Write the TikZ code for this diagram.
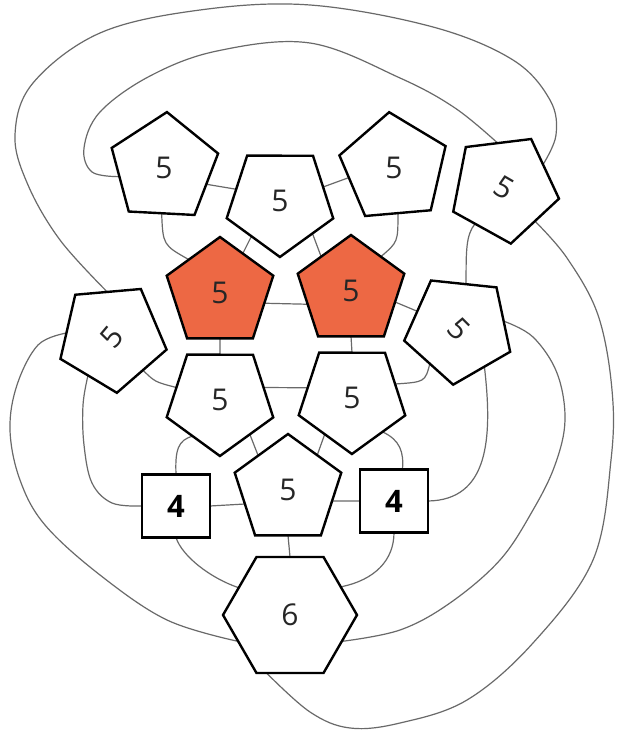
\documentclass[tikz,border=0pt]{standalone}
\usepackage{fontspec}
\setmainfont{Open Sans}
\usepackage{graphicx}
\usetikzlibrary{shapes.geometric}
\definecolor{redf}{RGB}{237,104,68}
\definecolor{wirec}{RGB}{105,105,105}
\pgfdeclarelayer{bg}
\pgfdeclarelayer{wires}
\pgfsetlayers{bg,wires,main}
\newcommand{\lab}{\fontsize{30}{36}\selectfont}
\newcommand{\labb}{\fontsize{31}{36}\selectfont\bfseries}
\begin{document}
\begin{tikzpicture}[x=1pt,y=-1pt,
  pent/.style={regular polygon, regular polygon sides=5, draw=black, line width=2.4pt,
    fill=white, minimum size=112pt, inner sep=0pt, outer sep=0pt, font=\lab, text=black!85},
  redpent/.style={pent, fill=redf},
  sq/.style={rectangle, draw=black, line width=2.4pt, fill=white, minimum width=68pt,
    minimum height=63pt, inner sep=0pt, outer sep=0pt, font=\labb, text=black},
  hexa/.style={regular polygon, regular polygon sides=6, draw=black, line width=2.4pt,
    fill=white, minimum size=134pt, inner sep=0pt, outer sep=0pt, font=\lab, text=black!85},
  wire/.style={draw=wirec, line width=1.2pt}
]
\begin{pgfonlayer}{bg}
  \fill[white] (0,0) rectangle (617,733);
\end{pgfonlayer}
\useasboundingbox (0,0) rectangle (617,733);

% shapes
\node[pent, shape border rotate=-3] (P1) at (164,168) {5};
\node[pent, shape border rotate=179.9] (P2) at (280,201) {5};
\node[pent, shape border rotate=5] (P3) at (394,168) {5};
\node[pent, shape border rotate=187] (P4) at (504,188) {\rotatebox[origin=c]{-30}{5}};
\node[redpent] (R1) at (220,293) {5};
\node[redpent] (R2) at (351,291) {5};
\node[pent, shape border rotate=185] (P5) at (112,337) {\rotatebox[origin=c]{50}{5}};
\node[pent, shape border rotate=174] (P6) at (459,329) {\rotatebox[origin=c]{-45}{5}};
\node[pent, shape border rotate=179.9] (P7) at (220,400) {5};
\node[pent, shape border rotate=179.9] (P8) at (352,398) {5};
\node[pent] (P9) at (288,490) {5};
\node[sq] (S1) at (176,506) {4};
\node[sq] (S2) at (394,501) {4};
\node[hexa] (H) at (290,615) {6};

\begin{pgfonlayer}{wires}
% outer loop P5-P4
\draw[wire] plot[smooth, tension=0.6] coordinates {(P5.96) (60,240) (28,185) (15,135) (33,83) (100,33) (200,10) (310,5) (433,27) (513,60) (550,100) (556,135) (P4.31)};
% inner loop P1-P4
\draw[wire] plot[smooth, tension=0.6] coordinates {(P1.191) (92,172) (84,148) (100,112) (150,76) (217,51) (310,43) (400,78) (455,108) (P4.98)};
\draw[wire] (P1.339) -- (P2.165);
\draw[wire] (P2.18) -- (P3.192);
\draw[wire] (P2.231) -- (R1.60);
\draw[wire] (P2.315) -- (R2.131);
\draw[wire] (P3.275) .. controls (398,242) .. (R2.49);
\draw[wire] (P1.267) .. controls (163,245) .. (R1.133);
\draw[wire] (R1.347) -- (R2.197);
\draw[wire] (R2.346) -- (P6.157);
\draw[wire] (P4.231) .. controls (466,235) and (466,250) .. (P6.81);
% outer right arc P4-H
\draw[wire] plot[smooth, tension=0.6] coordinates {(P4.313) (567,258) (598,315) (612,390) (611,460) (593,560) (533,643) (467,700) (400,723) (350,728) (310,712) (H.248)};
% middle right arc P6-H
\draw[wire] plot[smooth, tension=0.6] coordinates {(P6.10) (533,337) (557,373) (565,420) (555,465) (533,510) (500,560) (450,603) (400,630) (H.333)};
\draw[wire] (P6.304) .. controls (493,440) and (488,500) .. (S2.east);
\draw[wire] (P6.230) .. controls (425,382) .. (P8.18);
\draw[wire] (R2.270) -- (P8.90);
\draw[wire] (R1.270) -- (P7.90);
\draw[wire] (P7.16) -- (P8.167);
\draw[wire] (P5.313) .. controls (155,382) .. (P7.164);
\draw[wire] (P7.311) -- (P9.131);
\draw[wire] (P8.233) -- (P9.50);
\draw[wire] (P7.233) .. controls (178,440) and (175,450) .. (S1.north);
\draw[wire] (P8.312) .. controls (400,440) and (404,452) .. (S2.75);
\draw[wire] (S1.east) -- (P9.198);
\draw[wire] (P9.346) -- (S2.west);
\draw[wire] (P9.270) -- (H.90);
% left arcs
\draw[wire] plot[smooth, tension=0.6] coordinates {(S1.west) (112,503) (92,483) (84,445) (83,405) (P5.238)};
\draw[wire] plot[smooth, tension=0.6] coordinates {(P5.175) (38,345) (17,385) (10,430) (20,480) (45,525) (100,575) (167,620) (H.207)};
\draw[wire] (S1.south) .. controls (182,556) and (210,578) .. (H.152);
\draw[wire] (S2.south) .. controls (394,560) and (375,580) .. (H.29);
\end{pgfonlayer}
\end{tikzpicture}
\end{document}
